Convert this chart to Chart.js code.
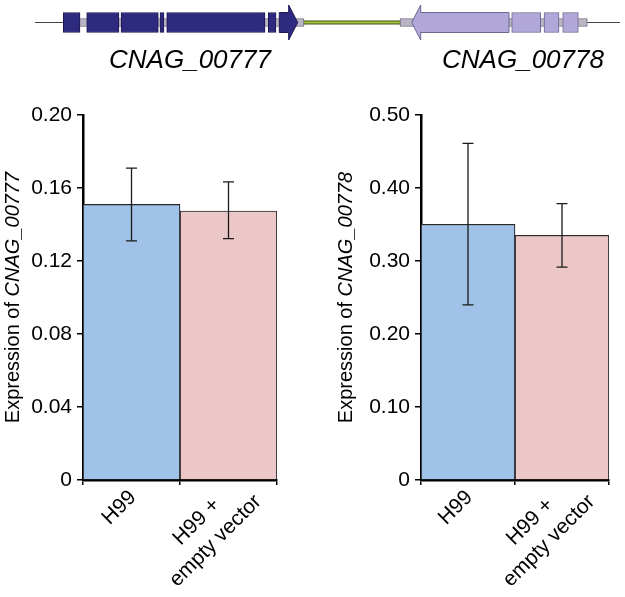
<!DOCTYPE html>
<html>
<head>
<meta charset="utf-8">
<script src="https://cdn.jsdelivr.net/npm/chart.js@4.4.1/dist/chart.umd.min.js"></script>
<style>
  body { margin: 0; background: #fff; width: 625px; height: 597px; position: relative; overflow: hidden; }
  canvas { position: absolute; }
</style>
</head>
<body>
<canvas id="genes" width="625" height="80" style="left:0;top:0"></canvas>
<canvas id="chart777" width="312" height="517" style="left:0;top:80px"></canvas>
<canvas id="chart778" width="313" height="517" style="left:312px;top:80px"></canvas>
<script>
// bar chart data
var strains = [['H99'], ['H99 +', 'empty vector']];
var expr777 = [0.151, 0.1474];
var low777 = [0.131, 0.1323];
var high777 = [0.1709, 0.1634];
var expr778 = [0.3503, 0.3352];
var low778 = [0.240, 0.2916];
var high778 = [0.461, 0.3787];
var yTicks777 = [0, 0.04, 0.08, 0.12, 0.16, 0.20];
var yLabels777 = ['0', '0.04', '0.08', '0.12', '0.16', '0.20'];
var yTicks778 = [0, 0.10, 0.20, 0.30, 0.40, 0.50];
var yLabels778 = ['0', '0.10', '0.20', '0.30', '0.40', '0.50'];

// gene map, positions along the locus
var locus = [35, 620];
var intergenic = [304, 400];
var gene777Span = [63.3, 304];
var gene777Exons = [[63.3, 80], [86.7, 119], [121, 158.3], [160, 164], [166.7, 265], [268.3, 276]];
var gene777Arrow = [279.3, 297.7];
var gene778Span = [400, 587.3];
var gene778Exons = [[511.7, 540.7], [544, 559], [562.7, 578.3]];
var gene778Arrow = [411.7, 509];
var geneNames = ['CNAG_00777', 'CNAG_00778'];
var geneNamePos = [190, 523];

var FONT = "'Liberation Sans', Arial, Helvetica, sans-serif";
Chart.defaults.font.family = FONT;
Chart.defaults.color = '#000';

function onLocus(list) {
  return list.map(function (s) { return { x: s, y: 'locus' }; });
}

function arrow(ctx, xs, s, e, c, forward) {
  var x0 = xs.getPixelForValue(s), x1 = xs.getPixelForValue(e);
  var head = 9, body = 10, flare = 17.5;
  ctx.beginPath();
  if (forward) {
    ctx.moveTo(x0, c - body); ctx.lineTo(x1 - head, c - body); ctx.lineTo(x1 - head, c - flare);
    ctx.lineTo(x1, c); ctx.lineTo(x1 - head, c + flare); ctx.lineTo(x1 - head, c + body); ctx.lineTo(x0, c + body);
  } else {
    ctx.moveTo(x1, c - body); ctx.lineTo(x0 + head, c - body); ctx.lineTo(x0 + head, c - flare);
    ctx.lineTo(x0, c); ctx.lineTo(x0 + head, c + flare); ctx.lineTo(x0 + head, c + body); ctx.lineTo(x1, c + body);
  }
  ctx.closePath();
  ctx.fill();
  ctx.stroke();
}

var genePlugin = {
  id: 'genemap',
  beforeDatasetsDraw: function (chart) {
    var ctx = chart.ctx, xs = chart.scales.x;
    var c = chart.scales.y.getPixelForValue(0);
    ctx.save();
    ctx.strokeStyle = '#444';
    ctx.lineWidth = 1.2;
    ctx.beginPath();
    ctx.moveTo(xs.getPixelForValue(locus[0]), c);
    ctx.lineTo(xs.getPixelForValue(locus[1]), c);
    ctx.stroke();
    ctx.strokeStyle = '#3f4c16';
    ctx.lineWidth = 4;
    ctx.beginPath();
    ctx.moveTo(xs.getPixelForValue(intergenic[0]), c);
    ctx.lineTo(xs.getPixelForValue(intergenic[1]), c);
    ctx.stroke();
    ctx.strokeStyle = '#a2c83e';
    ctx.lineWidth = 2;
    ctx.stroke();
    ctx.restore();
  },
  afterDatasetsDraw: function (chart) {
    var ctx = chart.ctx, xs = chart.scales.x;
    var c = chart.scales.y.getPixelForValue(0);
    ctx.save();
    ctx.lineWidth = 1;
    ctx.fillStyle = '#2e2a7f';
    ctx.strokeStyle = '#1b1850';
    arrow(ctx, xs, gene777Arrow[0], gene777Arrow[1], c, true);
    ctx.fillStyle = '#b1a8d9';
    ctx.strokeStyle = '#6e6690';
    arrow(ctx, xs, gene778Arrow[0], gene778Arrow[1], c, false);
    ctx.fillStyle = '#000';
    ctx.font = 'italic 26px ' + FONT;
    ctx.textAlign = 'center';
    ctx.textBaseline = 'alphabetic';
    geneNames.forEach(function (n, i) {
      ctx.fillText(n, xs.getPixelForValue(geneNamePos[i]), chart.chartArea.bottom + 23);
    });
    ctx.restore();
  }
};

new Chart(document.getElementById('genes'), {
  type: 'bar',
  data: {
    labels: ['locus'],
    datasets: [
      { data: onLocus([gene777Span, gene778Span]), backgroundColor: '#bab4c4', borderColor: '#6f6a7a',
        borderWidth: 1, borderSkipped: false, barThickness: 8, grouped: false, order: 2 },
      { data: onLocus(gene777Exons), backgroundColor: '#2e2a7f', borderColor: '#1b1850',
        borderWidth: 1, borderSkipped: false, barThickness: 20, grouped: false, order: 1 },
      { data: onLocus(gene778Exons), backgroundColor: '#b1a8d9', borderColor: '#6e6690',
        borderWidth: 1, borderSkipped: false, barThickness: 20, grouped: false, order: 1 }
    ]
  },
  options: {
    indexAxis: 'y',
    responsive: false,
    animation: false,
    layout: { padding: { top: 0, bottom: 35, left: 0, right: 0 } },
    plugins: { legend: { display: false }, tooltip: { enabled: false } },
    scales: {
      x: { type: 'linear', min: 0, max: 625, display: false },
      y: { type: 'category', display: false }
    }
  },
  plugins: [genePlugin]
});

function expressionChart(id, gene, values, low, high, ticks, tickLabels, layout) {
  var figPlugin = {
    id: 'fig',
    afterDatasetsDraw: function (chart) {
      var ctx = chart.ctx, ys = chart.scales.y;
      ctx.save();
      ctx.strokeStyle = '#1a1a1a';
      ctx.lineWidth = 1.3;
      chart.getDatasetMeta(0).data.forEach(function (bar, i) {
        var top = ys.getPixelForValue(high[i]), bot = ys.getPixelForValue(low[i]);
        ctx.beginPath();
        ctx.moveTo(bar.x, top); ctx.lineTo(bar.x, bot);
        ctx.moveTo(bar.x - 5.5, top); ctx.lineTo(bar.x + 5.5, top);
        ctx.moveTo(bar.x - 5.5, bot); ctx.lineTo(bar.x + 5.5, bot);
        ctx.stroke();
      });
      ctx.restore();
    },
    afterDraw: function (chart) {
      var ctx = chart.ctx, xs = chart.scales.x, area = chart.chartArea;
      ctx.save();
      ctx.fillStyle = '#000';
      // rotated category labels
      ctx.font = '21px ' + FONT;
      ctx.textAlign = 'center';
      ctx.textBaseline = 'middle';
      strains.forEach(function (lines, i) {
        var maxW = Math.max.apply(null, lines.map(function (l) { return ctx.measureText(l).width; }));
        var a = -17 - 0.585 * maxW / 2;
        var b = lines.length === 1 ? 11 : 7;
        ctx.save();
        ctx.translate(xs.getPixelForValue(i), area.bottom);
        ctx.rotate(-Math.PI / 4);
        lines.forEach(function (l, k) { ctx.fillText(l, a, b + k * 27); });
        ctx.restore();
      });
      // y title, gene name in italics
      var part1 = 'Expression of ';
      ctx.font = '20px ' + FONT;
      var w1 = ctx.measureText(part1).width;
      ctx.font = 'italic 20px ' + FONT;
      var w2 = ctx.measureText(gene).width;
      ctx.translate(area.left - layout.titleGap, (area.top + area.bottom) / 2);
      ctx.rotate(-Math.PI / 2);
      ctx.textAlign = 'left';
      ctx.font = '20px ' + FONT;
      ctx.fillText(part1, -(w1 + w2) / 2, 0);
      ctx.font = 'italic 20px ' + FONT;
      ctx.fillText(gene, -(w1 + w2) / 2 + w1, 0);
      ctx.restore();
    }
  };

  return new Chart(document.getElementById(id), {
    type: 'bar',
    data: {
      labels: strains,
      datasets: [{
        data: values,
        backgroundColor: ['#a0c2e8', '#ecc7c7'],
        borderColor: '#2a2a2a',
        borderWidth: 1.2,
        barPercentage: 1,
        categoryPercentage: 1
      }]
    },
    options: {
      responsive: false,
      animation: false,
      layout: { padding: { top: 35, right: layout.right, bottom: 0, left: 0 } },
      plugins: { legend: { display: false }, tooltip: { enabled: false } },
      scales: {
        x: {
          offset: true,
          grid: { offset: true, drawOnChartArea: false, drawTicks: true, tickLength: 5, color: '#000', lineWidth: 1.5 },
          border: { display: true, color: '#000', width: 2.5 },
          ticks: { display: false },
          afterFit: function (s) { s.height = 117; }
        },
        y: {
          min: 0,
          max: ticks[ticks.length - 1],
          afterBuildTicks: function (s) { s.ticks = ticks.map(function (v) { return { value: v }; }); },
          grid: { drawOnChartArea: false, drawTicks: true, tickLength: 6, color: '#000', lineWidth: 1.5 },
          border: { display: true, color: '#000', width: 2.5 },
          ticks: {
            padding: 5,
            font: { size: 21 },
            color: '#000',
            callback: function (v, i) { return tickLabels[i]; }
          },
          afterFit: function (s) { s.width = layout.yWidth; }
        }
      }
    },
    plugins: [figPlugin]
  });
}

expressionChart('chart777', 'CNAG_00777', expr777, low777, high777, yTicks777, yLabels777,
  { yWidth: 83, right: 35, titleGap: 70 });
expressionChart('chart778', 'CNAG_00778', expr778, low778, high778, yTicks778, yLabels778,
  { yWidth: 109, right: 16, titleGap: 75 });
</script>
</body>
</html>
